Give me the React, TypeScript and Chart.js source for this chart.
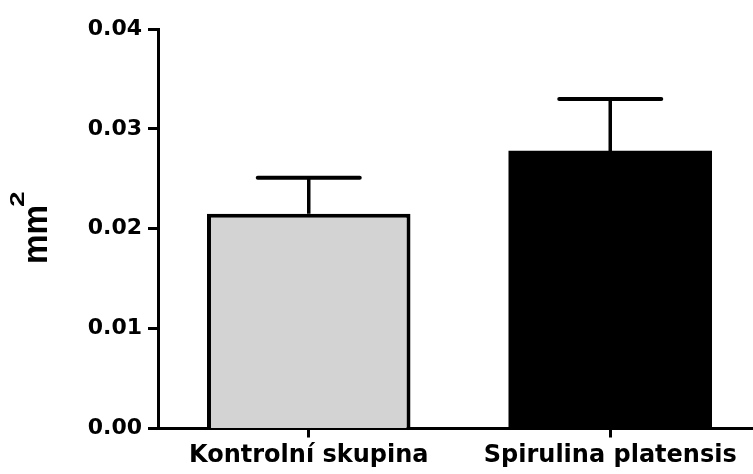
import React, { useEffect, useRef } from "react";
import { Chart, registerables } from "chart.js";

Chart.register(...registerables);

const categories = ["Kontrolní skupina", "Spirulina platensis"];
const means = [0.0215, 0.0278];
const errors = [0.0036, 0.0052];
const barColors = ["#d3d3d3", "#000000"];
const barBorders = [4, 0];
const yTicks = [0, 0.01, 0.02, 0.03, 0.04];
const yTitle = "mm";
const yTitleSup = "2";

const FONT = "'DejaVu Sans', sans-serif";
const TFONT = "'Liberation Sans', Arial, sans-serif";

const errorBarPlugin = {
  id: "errorBars",
  afterDatasetsDraw(chart: any) {
    const ctx = chart.ctx;
    const meta = chart.getDatasetMeta(0);
    const y = chart.scales.y;
    ctx.save();
    ctx.strokeStyle = "#000";
    meta.data.forEach((bar: any, i: number) => {
      const top = y.getPixelForValue(means[i]);
      const e = y.getPixelForValue(means[i] + errors[i]);
      ctx.lineWidth = 3.5;
      ctx.beginPath();
      ctx.moveTo(bar.x, top);
      ctx.lineTo(bar.x, e);
      ctx.stroke();
      ctx.lineWidth = 4;
      ctx.lineCap = "round";
      ctx.beginPath();
      ctx.moveTo(bar.x - 51, e);
      ctx.lineTo(bar.x + 51, e);
      ctx.stroke();
    });
    ctx.restore();
  },
};

const titlePlugin = {
  id: "yTitleSup",
  afterDraw(chart: any) {
    const ctx = chart.ctx;
    ctx.save();
    ctx.translate(47, 262);
    ctx.rotate(-Math.PI / 2);
    ctx.fillStyle = "#000";
    ctx.textBaseline = "alphabetic";
    ctx.textAlign = "left";
    ctx.font = `bold 35px ${TFONT}`;
    const m = ctx.measureText(yTitle);
    const inkW = m.actualBoundingBoxRight + m.actualBoundingBoxLeft;
    const sx = 55 / inkW;
    ctx.save();
    ctx.scale(sx, 1);
    ctx.fillText(yTitle, m.actualBoundingBoxLeft, 0);
    ctx.restore();
    ctx.font = `bold 20px ${TFONT}`;
    const m2 = ctx.measureText(yTitleSup);
    ctx.save();
    ctx.translate(55, -23);
    ctx.scale(1.4, 1);
    ctx.fillText(yTitleSup, m2.actualBoundingBoxLeft, 0);
    ctx.restore();
    ctx.restore();
  },
};

export default function App() {
  const ref = useRef<HTMLCanvasElement>(null);
  useEffect(() => {
    if (!ref.current) return;
    const chart = new Chart(ref.current, {
      type: "bar",
      data: {
        labels: categories,
        datasets: [
          {
            data: means,
            backgroundColor: barColors,
            borderColor: "#000",
            borderWidth: barBorders,
            barPercentage: 0.675,
            categoryPercentage: 1,
          },
        ],
      },
      options: {
        responsive: false,
        animation: false,
        layout: { padding: { top: 29, left: 0, right: 0, bottom: 0 } },
        plugins: { legend: { display: false }, tooltip: { enabled: false } },
        scales: {
          x: {
            offset: true,
            grid: {
              offset: false,
              drawOnChartArea: false,
              drawTicks: true,
              tickLength: 9,
              tickWidth: 3,
              tickColor: "#000",
            },
            border: { display: true, color: "#000", width: 3 },
            ticks: {
              color: "#000",
              font: { family: FONT, size: 24, weight: "bold" },
              padding: 4,
              maxRotation: 0,
              autoSkip: false,
            },
            afterFit(scale: any) {
              scale.height = 474 - 428.5;
            },
          },
          y: {
            min: 0,
            max: 0.04,
            afterBuildTicks(scale: any) {
              scale.ticks = yTicks.map((v) => ({ value: v }));
            },
            grid: {
              drawOnChartArea: false,
              drawTicks: true,
              tickLength: 10,
              tickWidth: 3,
              tickColor: "#000",
            },
            border: { display: true, color: "#000", width: 3 },
            ticks: {
              color: "#000",
              font: { family: FONT, size: 22, weight: "bold" },
              padding: 6,
              callback: (v: any) => Number(v).toFixed(2),
            },
            afterFit(scale: any) {
              scale.width = 158;
            },
          },
        },
      },
      plugins: [errorBarPlugin, titlePlugin],
    });
    return () => chart.destroy();
  }, []);
  return (
    <div
      style={{
        position: "fixed",
        left: 0,
        top: 0,
        width: 753,
        height: 474,
        overflow: "hidden",
        background: "#fff",
      }}
    >
      <canvas ref={ref} width={761} height={474} style={{ display: "block" }} />
    </div>
  );
}
